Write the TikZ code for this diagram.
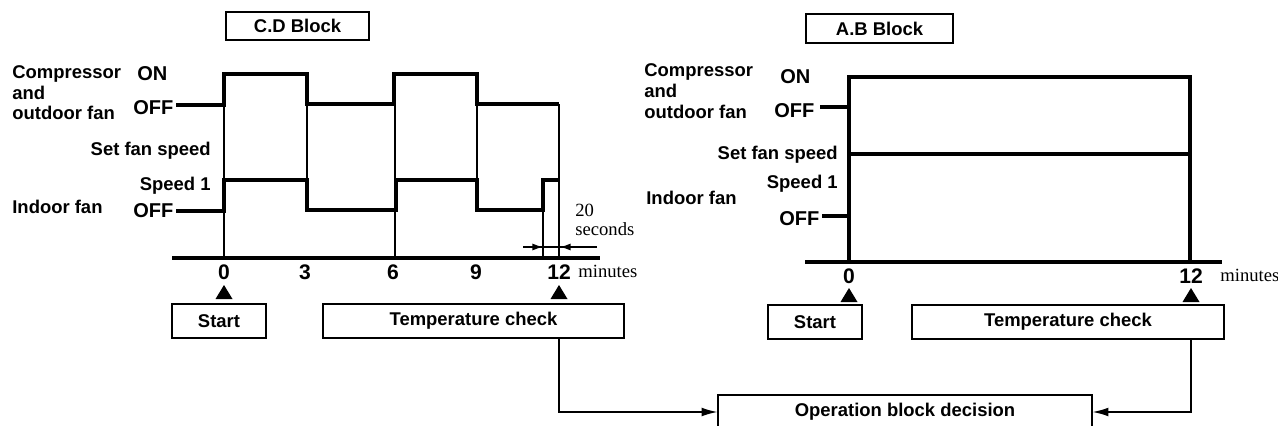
\documentclass[tikz,border=0pt]{standalone}
\usepackage{fontspec}
\setmainfont{Liberation Serif}
\setsansfont{Liberation Sans}
\usetikzlibrary{arrows.meta}

\tikzset{
  txt/.style={font=\sffamily\bfseries\fontsize{10.5}{12}\selectfont, inner sep=0pt},
  lvl/.style={font=\sffamily\bfseries\fontsize{11.4}{13}\selectfont, inner sep=0pt, anchor=base west},
  num/.style={font=\sffamily\bfseries\fontsize{12}{14}\selectfont, inner sep=0pt, anchor=base},
  unit/.style={font=\rmfamily\fontsize{10.6}{12}\selectfont, inner sep=0pt, anchor=base west},
  blk/.style={draw, line width=0.7pt, inner sep=0pt, minimum height=0.68cm,
    font=\sffamily\bfseries\fontsize{10.5}{12}\selectfont},
  wave/.style={line width=1.8pt},
  guide/.style={line width=0.8pt},
  axis/.style={line width=1.8pt},
  conn/.style={line width=0.8pt, -{Latex[length=9pt, width=5pt]}},
  dim/.style={line width=0.8pt, -{Latex[length=6pt, width=4pt]}},
}
\newcommand{\marker}[1]{\fill (#1) ++(-8.5,14) -- ++(17,0) -- ++(-8.5,-14) -- cycle;}

\begin{document}
\begin{tikzpicture}[x=0.02cm, y=-0.02cm]
    \useasboundingbox (0,0) rectangle (1278,426);

    % ---- C.D block (left) ----
    \node[blk, minimum width=2.86cm, minimum height=0.56cm] (cdTitle) at (297.5,26) {C.D Block};

    % row labels
    \node[txt, anchor=base west] (cdComp) at (12,78) {Compressor};
    \node[txt, anchor=base west] (cdAnd) at (12,99) {and};
    \node[txt, anchor=base west] (cdOut) at (12,119) {outdoor fan};
    \node[lvl] (cdOn) at (137,80) {ON};
    \node[lvl] (cdOff) at (133,114) {OFF};
    \node[txt, anchor=base east] (cdSet) at (211,155) {Set fan speed};
    \node[txt, anchor=base east] (cdSpeed) at (211,190) {Speed 1};
    \node[txt, anchor=base west] (cdIndoor) at (12,213) {Indoor fan};
    \node[lvl] (cdInOff) at (133,217) {OFF};

    % guide lines
    \draw[guide] (224,74) -- (224,258);
    \draw[guide] (307,104) -- (307,210);
    \draw[guide] (395,74) -- (395,258);
    \draw[guide] (477,104) -- (477,180);
    \draw[guide] (543,210) -- (543,258);
    \draw[guide] (559,104) -- (559,258);

    % compressor and indoor fan
    \draw[wave] (176,105) -- (224,105) -- (224,74) -- (307,74) -- (307,104) -- (394,104)
        -- (394,74) -- (477,74) -- (477,104) -- (559,104);
    \draw[wave] (176,211) -- (224,211) -- (224,180) -- (307,180) -- (307,210) -- (396,210)
        -- (396,180) -- (477,180) -- (477,210) -- (543,210) -- (543,180) -- (559,180);

    % 20 seconds
    \node[unit] (cdTwenty) at (575,216) {20};
    \node[unit] (cdSec) at (575,235) {seconds};
    \draw[guide] (523,247) -- (597,247);
    \draw[dim] (523,247) -- (543,247);
    \draw[dim] (597,247) -- (560,247);

    % time axis
    \draw[axis] (172,258) -- (600,258);
    \node[num] (cdT0) at (224,279) {0};
    \node[num] (cdT3) at (305,279) {3};
    \node[num] (cdT6) at (393,279) {6};
    \node[num] (cdT9) at (476,279) {9};
    \node[num] (cdT12) at (559,279) {12};
    \node[unit] (cdMin) at (578,277) {minutes};
    \marker{224,285}
    \marker{559,285}

    \node[blk, minimum width=1.88cm] (cdStart) at (219,321) {Start};
    \node[blk, minimum width=6.02cm] (cdCheck) at (473.5,321) {Temperature check};

    % ---- A.B block (right) ----
    \node[blk, minimum width=2.94cm, minimum height=0.58cm] (abTitle) at (879.5,28.5) {A.B Block};

    \node[txt, anchor=base west] (abComp) at (644,76) {Compressor};
    \node[txt, anchor=base west] (abAnd) at (644,97) {and};
    \node[txt, anchor=base west] (abOut) at (644,118) {outdoor fan};
    \node[lvl] (abOn) at (780,83) {ON};
    \node[lvl] (abOff) at (774,117) {OFF};
    \node[txt, anchor=base east] (abSet) at (838,159) {Set fan speed};
    \node[txt, anchor=base east] (abSpeed) at (838,188) {Speed 1};
    \node[txt, anchor=base west] (abIndoor) at (646,204) {Indoor fan};
    \node[lvl] (abInOff) at (779,225) {OFF};

    \draw[wave] (820,107) -- (849,107);
    \draw[wave] (822,216) -- (849,216);
    \draw[wave] (849,262) -- (849,77) -- (1190,77) -- (1190,262);
    \draw[wave] (849,154) -- (1190,154);

    \draw[axis] (805,262) -- (1222,262);
    \node[num] (abT0) at (849,283) {0};
    \node[num] (abT12) at (1191,283) {12};
    \node[unit] (abMin) at (1220,281) {minutes};
    \marker{849,288}
    \marker{1191,288}

    \node[blk, minimum width=1.88cm] (abStart) at (815,322) {Start};
    \node[blk, minimum width=6.24cm] (abCheck) at (1068,322) {Temperature check};

    % decision
    \node[blk, minimum width=7.48cm] (dec) at (905,412) {Operation block decision};
    \draw[conn] (cdCheck.south -| cdT12) |- (dec.west);
    \draw[conn] (abCheck.south -| abT12) |- (dec.east);
\end{tikzpicture}
\end{document}
